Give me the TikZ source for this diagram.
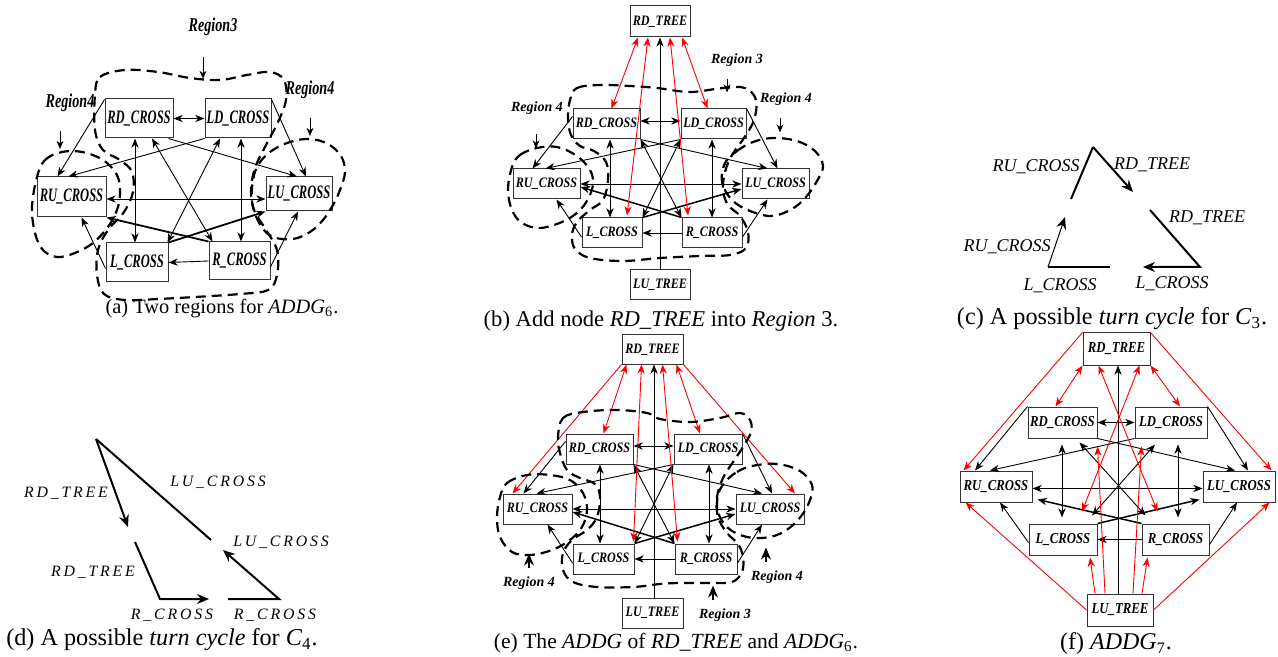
\documentclass[tikz,border=0pt]{standalone}
\usepackage{fontspec}
\setmainfont{Liberation Serif}
\newfontfamily\spit[LetterSpace=18]{Liberation Serif}
\usepackage{graphicx}
\usetikzlibrary{arrows.meta,calc}
\newcommand\cna[1]{\scalebox{0.66}[1]{#1}}
\newcommand\cnr[1]{\scalebox{0.72}[1]{#1}}
\newcommand\cnb[1]{\scalebox{0.84}[1]{#1}}
\tikzset{
  bxs/.style 2 args={draw=black!80, line width=0.5pt, inner sep=0pt,
    minimum width=#1*0.5pt, minimum height=#2*0.5pt},
  fa/.style={font=\fontsize{9.5}{10}\selectfont\bfseries\itshape},
  fb/.style={font=\fontsize{7.2}{8}\selectfont\bfseries\itshape},
  ff/.style={font=\fontsize{7.6}{8}\selectfont\bfseries\itshape},
  mytip/.tip={Stealth[length=4.6pt,width=3.6pt,inset=1.4pt]},
  e/.style={line width=0.45pt, -mytip},
  ee/.style={line width=0.45pt, mytip-mytip},
  et/.style={line width=0.9pt, -mytip},
  re/.style={line width=0.45pt, draw=red, -mytip},
  ree/.style={line width=0.45pt, draw=red, mytip-mytip},
  region/.style={line width=1.1pt, dash pattern=on 5pt off 3pt},
  rla/.style={font=\fontsize{9.8}{10}\selectfont\bfseries\itshape},
  rlb/.style={font=\fontsize{7}{8}\selectfont\bfseries\itshape},
  la/.style={line width=0.45pt, -{Stealth[length=4pt,width=3.4pt,inset=1.2pt]}},
  lu/.style={line width=0.6pt, -{Stealth[length=6pt,width=5pt,inset=2pt]}},
  clab/.style={font=\fontsize{9}{10}\selectfont\itshape},
  dlab/.style={font=\fontsize{7.9}{9}\selectfont\spit\itshape},
  tl/.style={line width=1pt},
  ctip/.tip={Stealth[length=6pt,width=5pt,inset=2pt]},
  capt/.style={font=\fontsize{#1}{12}\selectfont}
}
\begin{document}
\begin{tikzpicture}[x=0.5pt,y=-0.5pt]
\useasboundingbox (0,0) rectangle (1278,657);

%%%%%%%%%%%%%%%% (a)
\node[bxs={68}{39},fa] (aRD) at (139,118.5) {\cna{RD\_CROSS}};
\node[bxs={66}{39},fa] (aLD) at (238,118.5) {\cna{LD\_CROSS}};
\node[bxs={69}{40},fa] (aRU) at (71.5,197) {\cna{RU\_CROSS}};
\node[bxs={66}{34},fa] (aLU) at (299,194) {\cna{LU\_CROSS}};
\node[bxs={62}{39},fa] (aL) at (137,262.5) {\cna{L\_CROSS}};
\node[bxs={61}{38},fa] (aR) at (239.5,261) {\cna{R\_CROSS}};
\coordinate (avl) at (135,0);
\coordinate (avr) at (241,0);
\draw[ee] (aRD.east) -- (aLD.west);
\draw[e] ($(aRD.north west)+(0,1)$) -- ($(aRU.north)+(-14,0)$);
\draw[e] ($(aLD.north east)+(0,1)$) -- ($(aLU.north)+(7,0)$);
\draw[e] ($(aRD.south east)+(-5,0)$) -- ($(aLU.north)+(-2,0)$);
\draw[e] (aLD.south west) -- ($(aRU.north)+(-3,0)$);
\draw[ee] (aRD.south -| avl) -- (aL.north -| avl);
\draw[ee] (aLD.south -| avr) -- (aR.north -| avr);
\draw[ee] ($(aRD.south)+(13,0)$) -- ($(aR.north west)+(4,0)$);
\draw[ee] ($(aLD.south)+(-18,0)$) -- ($(aL.north east)+(-1,0)$);
\draw[ee] ($(aRU.east)+(0,2)$) -- ($(aLU.west)+(0,5)$);
\draw[et] (aR.north west) -- (aRU.south east);
\draw[et] (aL.north east) -- (aLU.south west);
\draw[e] (aR.west) -- (aL.east);
\draw[e] ($(aL.west)+(0,6)$) -- ($(aRU.south)+(10,0)$);
\draw[e] ($(aR.east)+(0,6)$) -- ($(aLU.south)+(-1,0)$);
\draw[region] plot[smooth cycle, tension=0.6] coordinates {(95,95) (100,77) (125,70) (158,72) (190,78) (220,80) (247,75) (270,72) (284,80) (286,100) (278,122) (266,145) (255,168) (251,190) (254,210) (266,230) (277,250) (277,275) (268,290) (240,294) (195,297) (158,299) (125,300) (104,294) (97,275) (98,250) (108,230) (124,212) (133,192) (132,172) (120,160) (103,150) (95,130)};
\draw[region] plot[smooth cycle, tension=0.6] coordinates {(37,177) (45,160) (62,152) (82,152) (103,160) (117,175) (120,193) (117,210) (108,227) (93,243) (75,253) (57,257) (43,250) (35,233) (32,207)};
\draw[region] plot[smooth cycle, tension=0.6] coordinates {(257,167) (270,152) (290,142) (310,139) (328,144) (341,156) (345,172) (340,190) (333,205) (323,220) (310,232) (293,239) (273,237) (261,226) (253,207) (252,187)};
\node[rla] (aR3) at (213,27) {\cnr{Region3}};
\node[rla] (aR4l) at (70,103) {\cnr{Region4}};
\node[rla] (aR4r) at (310,90) {\cnr{Region4}};
\draw[la] ($(aR3.south)+(-10,14)$) -- ++(0,22);
\draw[la] ($(aR4l.south)+(-10,12)$) -- ++(0,18);
\draw[la] ($(aR4r.south)+(0,12)$) -- ++(0,18);
\node[capt=10.2] (capa) at (222,309) {(a) Two regions for \textit{ADDG}\textsubscript{6}.};

%%%%%%%%%%%%%%%% macro for six-node graph (b),(e)
\newcommand\addgsix[1]{%
\draw[ee] ($(#1RD.east)+(0,-3)$) -- ($(#1LD.west)+(0,-3)$);
\draw[e] ($(#1RD.north west)+(0,8)$) -- ($(#1RU.north)+(-14,0)$);
\draw[e] (#1LD.north east) -- ($(#1LU.north)+(2,0)$);
\draw[e] (#1RD.south east) -- ($(#1LU.north)+(-8,0)$);
\draw[e] (#1LD.south west) -- ($(#1RU.north)+(-1,0)$);
\draw[ee] (#1RD.south -| #1vl) -- (#1L.north -| #1vl);
\draw[ee] (#1LD.south -| #1vr) -- (#1R.north -| #1vr);
\draw[ee] (#1RD.south east) -- (#1R.north west);
\draw[ee] (#1LD.south west) -- (#1L.north east);
\draw[ee] (#1RU.east) -- (#1LU.west);
\draw[et,line width=0.75pt] (#1R.north west) -- ($(#1RU.east)+(0,3)$);
\draw[et,line width=0.75pt] (#1L.north east) -- ($(#1LU.west)+(0,5)$);
\draw[e] (#1R.west) -- (#1L.east);
\draw[e] ($(#1L.west)+(0,4)$) -- ($(#1RU.south)+(10,0)$);
\draw[e] ($(#1R.east)+(0,4)$) -- ($(#1LU.south)+(-8,0)$);
}

%%%%%%%%%%%%%%%% (b)
\node[bxs={60}{31},fb] (bRDT) at (660,21.5) {\cnb{RD\_TREE}};
\node[bxs={67}{30},fb] (bRD) at (606.5,124) {\cnb{RD\_CROSS}};
\node[bxs={65}{30},fb] (bLD) at (713.5,124) {\cnb{LD\_CROSS}};
\node[bxs={67}{30},fb] (bRU) at (546.5,184) {\cnb{RU\_CROSS}};
\node[bxs={67}{30},fb] (bLU) at (775.5,184) {\cnb{LU\_CROSS}};
\node[bxs={60}{30},fb] (bL) at (612,233) {\cnb{L\_CROSS}};
\node[bxs={60}{30},fb] (bR) at (712,233) {\cnb{R\_CROSS}};
\node[bxs={60}{30},fb] (bLUT) at (660,285) {\cnb{LU\_TREE}};
\coordinate (bvl) at (610,0);
\coordinate (bvr) at (712,0);
\draw[e] (bLUT.north) -- (bRDT.south);
\addgsix{b}
\draw[ree] ($(bRDT.south)+(-22,0)$) -- ($(bRD.north)+(5,0)$);
\draw[ree] ($(bRDT.south)+(-12,0)$) -- ($(bL.north)+(15,-2)$);
\draw[ree] ($(bRDT.south)+(10,0)$) -- ($(bR.north)+(-24,-2)$);
\draw[ree] ($(bRDT.south)+(22,0)$) -- ($(bLD.north)+(-6,0)$);
\draw[region] plot[smooth cycle, tension=0.6] coordinates {(570,100) (577,88) (600,85) (630,86) (657,88) (690,92) (723,88) (745,88) (756,100) (754,120) (744,138) (732,155) (725,172) (723,190) (728,205) (740,216) (748,232) (746,248) (730,255) (700,256) (660,258) (623,261) (590,258) (575,249) (572,235) (577,222) (590,210) (603,200) (608,180) (606,162) (594,151) (580,146) (571,135) (568,118)};
\draw[region] plot[smooth cycle, tension=0.6] coordinates {(512,167) (520,155) (537,148) (557,147) (577,156) (590,170) (593,184) (588,199) (578,212) (562,222) (540,228) (522,223) (512,210) (508,190)};
\draw[region] plot[smooth cycle, tension=0.6] coordinates {(725,163) (737,151) (753,142) (773,138) (797,141) (815,151) (823,166) (817,181) (806,197) (792,209) (772,216) (750,211) (732,200) (722,182)};
\node[rlb] (bR3) at (737,60) {Region 3};
\node[rlb] (bR4l) at (537,108) {Region 4};
\node[rlb] (bR4r) at (786,99) {Region 4};
\draw[la] ($(bR3.south)+(-10,6)$) -- ++(0,13);
\draw[la] ($(bR4l.south)+(-1,13)$) -- ++(0,14);
\draw[la] ($(bR4r.south)+(-6,6)$) -- ++(0,14);
\node[capt=11.3] (capb) at (661,321) {(b) Add node \textit{RD\_TREE} into \textit{Region} 3.};

%%%%%%%%%%%%%%%% (c)
\coordinate (cA) at (1093,147);
\coordinate (cB) at (1071,199);
\coordinate (cC) at (1133,192);
\coordinate (cD) at (1150,210);
\coordinate (cE) at (1200,267);
\coordinate (cF) at (1143,267);
\coordinate (cG) at (1048,267);
\coordinate (cH) at (1110,267);
\coordinate (cI) at (1065,217);
\draw[tl] (cB) -- (cA);
\draw[tl,-ctip] (cA) -- (cC);
\draw[tl,-ctip] (cD) -- (cE) -- (cF);
\draw[tl] (cH) -- (cG);
\draw[line width=0.5pt,-ctip] (cG) -- (cI);
\node[clab] (c1) at (1036,167) {RU\_CROSS};
\node[clab] (c2) at (1152,165) {RD\_TREE};
\node[clab] (c3) at (1207,218) {RD\_TREE};
\node[clab] (c4) at (1172,284) {L\_CROSS};
\node[clab] (c5) at (1007,247) {RU\_CROSS};
\node[clab] (c6) at (1060,286) {L\_CROSS};
\node[capt=12.1] (capc) at (1112,319) {(c) A possible \textit{turn cycle} for \textit{C}\textsubscript{3}.};

%%%%%%%%%%%%%%%% (d)
\coordinate (dA) at (96,439);
\coordinate (dB) at (128,527);
\coordinate (dC) at (211,540);
\coordinate (dD) at (135,542);
\coordinate (dE) at (160,599);
\coordinate (dF) at (209,599);
\coordinate (dG) at (228,599);
\coordinate (dH) at (279,599);
\coordinate (dI) at (223,550);
\draw[tl,-ctip] (dA) -- (dB);
\draw[tl] (dA) -- (dC);
\draw[tl,-ctip] (dD) -- (dE) -- (dF);
\draw[tl,-ctip] (dG) -- (dH) -- (dI);
\node[dlab] (d1) at (218,482) {LU\_CROSS};
\node[dlab] (d2) at (66,493) {RD\_TREE};
\node[dlab] (d3) at (281,542) {LU\_CROSS};
\node[dlab] (d4) at (93,572) {RD\_TREE};
\node[dlab] (d5) at (172,615) {R\_CROSS};
\node[dlab] (d6) at (275,615) {R\_CROSS};
\node[capt=12.1] (capd) at (162,640) {(d) A possible \textit{turn cycle} for \textit{C}\textsubscript{4}.};

%%%%%%%%%%%%%%%% (e)
\node[bxs={61}{29},fb] (eRDT) at (652.5,349.5) {\cnb{RD\_TREE}};
\node[bxs={67}{30},fb] (eRD) at (599.5,449) {\cnb{RD\_CROSS}};
\node[bxs={68}{30},fb] (eLD) at (708,449) {\cnb{LD\_CROSS}};
\node[bxs={69}{30},fb] (eRU) at (537.5,509) {\cnb{RU\_CROSS}};
\node[bxs={68}{30},fb] (eLU) at (770,509) {\cnb{LU\_CROSS}};
\node[bxs={61}{30},fb] (eL) at (603.5,559) {\cnb{L\_CROSS}};
\node[bxs={62}{30},fb] (eR) at (706,559) {\cnb{R\_CROSS}};
\node[bxs={61}{30},fb] (eLUT) at (652.5,613) {\cnb{LU\_TREE}};
\coordinate (evl) at (600,0);
\coordinate (evr) at (709,0);
\coordinate (evc) at (654,0);
\draw[e] (eLUT.north -| evc) -- (eRDT.south -| evc);
\addgsix{e}
\draw[ree] ($(eRDT.south)+(-26,0)$) -- ($(eRD.north)+(4,0)$);
\draw[ree] ($(eRDT.south)+(-11,0)$) -- ($(eL.north east)+(-1,-2)$);
\draw[ree] ($(eRDT.south)+(10,0)$) -- ($(eR.north west)+(3,-2)$);
\draw[ree] ($(eRDT.south)+(24,0)$) -- ($(eLD.north)+(-8,0)$);
\draw[re] (eRDT.south west) -- ($(eRU.north)+(-25,0)$);
\draw[re] (eRDT.south east) -- ($(eLU.north)+(25,0)$);
\draw[region] plot[smooth cycle, tension=0.6] coordinates {(558,437) (563,418) (583,412) (617,410) (647,413) (660,419) (690,422) (720,418) (740,413) (750,420) (751,432) (743,447) (733,462) (723,478) (717,497) (718,517) (727,533) (738,544) (743,557) (742,572) (732,582) (710,583) (680,583) (660,584) (633,587) (597,587) (573,582) (563,570) (563,553) (572,540) (587,530) (597,517) (600,497) (595,484) (580,478) (567,470) (560,453)};
\draw[region] plot[smooth cycle, tension=0.6] coordinates {(500,497) (507,483) (527,475) (550,475) (570,480) (583,493) (587,510) (582,527) (570,540) (552,550) (530,555) (512,552) (500,537) (497,517)};
\draw[region] plot[smooth cycle, tension=0.6] coordinates {(725,482) (737,472) (752,466) (777,464) (800,471) (812,485) (810,500) (802,515) (788,529) (770,537) (747,537) (728,528) (718,512) (718,495)};
\node[rlb] (eR4l) at (529,583) {Region 4};
\node[rlb] (eR4r) at (777,577) {Region 4};
\node[rlb] (eR3) at (725,615) {Region 3};
\draw[lu] ($(eR4l.north)+(0,-2)$) -- ++(0,-14);
\draw[lu] ($(eR4r.north)+(-11,-2)$) -- ++(0,-14);
\draw[lu] ($(eR3.north)+(-12,-2)$) -- ++(0,-14);
\node[capt=10.8] (cape) at (676,643) {(e) The \textit{ADDG} of \textit{RD\_TREE} and \textit{ADDG}\textsubscript{6}.};

%%%%%%%%%%%%%%%% (f)
\node[bxs={67}{32},ff] (fRDT) at (1116.5,349) {\cnb{RD\_TREE}};
\node[bxs={69}{31},ff] (fRD) at (1062.5,422.5) {\cnb{RD\_CROSS}};
\node[bxs={72}{31},ff] (fLD) at (1171,422.5) {\cnb{LD\_CROSS}};
\node[bxs={72}{31},ff] (fRU) at (996,486.5) {\cnb{RU\_CROSS}};
\node[bxs={72}{31},ff] (fLU) at (1239,486.5) {\cnb{LU\_CROSS}};
\node[bxs={68}{31},ff] (fL) at (1063,539.5) {\cnb{L\_CROSS}};
\node[bxs={67}{31},ff] (fR) at (1175.5,539.5) {\cnb{R\_CROSS}};
\node[bxs={66}{32},ff] (fLUT) at (1120,610) {\cnb{LU\_TREE}};
\coordinate (fvl) at (1062,0);
\coordinate (fvr) at (1178,0);
\coordinate (fvc) at (1118,0);
\draw[e] (fLUT.north -| fvc) -- (fRDT.south -| fvc);
\draw[ee] (fRD.east) -- (fLD.west);
\draw[e] (fRD.north west) -- ($(fRU.north)+(-21,0)$);
\draw[e] (fLD.north east) -- ($(fLU.north)+(9,0)$);
\draw[e] (fRD.south east) -- ($(fLU.north)+(-4,0)$);
\draw[e] (fLD.south west) -- ($(fRU.north)+(-6,0)$);
\draw[ee] ($(fRD.south -| fvl)+(0,6)$) -- ($(fL.north -| fvl)+(0,-6)$);
\draw[ee] ($(fLD.south -| fvr)+(0,6)$) -- ($(fR.north -| fvr)+(0,-6)$);
\draw[ee] ($(fRD.south)+(17,4)$) -- ($(fR.north)+(-30,-8)$);
\draw[ee] ($(fLD.south)+(-16,6)$) -- ($(fL.north)+(29,-8)$);
\draw[ee] ($(fRU.east)+(0,2)$) -- ($(fLU.west)+(0,2)$);
\draw[et,line width=0.75pt] (fR.north west) -- ($(fRU.south east)+(5,-3)$);
\draw[et,line width=0.75pt] (fL.north east) -- ($(fLU.south west)+(-3,-3)$);
\draw[e] (fR.west) -- (fL.east);
\draw[e] ($(fL.west)+(0,3)$) -- ($(fRU.south)+(4,0)$);
\draw[e] ($(fR.east)+(0,5)$) -- ($(fLU.south)+(-2,0)$);
\draw[ree] (fRDT.south west) -- ($(fRD.north)+(-7,0)$);
\draw[ree] (fRDT.south east) -- ($(fLD.north)+(9,0)$);
\draw[re] (fRDT.north west) -- ($(fRU.north west)+(4,0)$);
\draw[re] (fRDT.north east) -- ($(fLU.north east)+(-4,0)$);
\draw[re] (fLUT.west) -- ($(fRU.south west)+(6,0)$);
\draw[re] (fLUT.east) -- ($(fLU.south east)+(-6,0)$);
\draw[re] ($(fLUT.north)+(-25,0)$) -- ($(fL.south)+(27,2)$);
\draw[re] ($(fLUT.north)+(22,0)$) -- ($(fR.south)+(-28,2)$);
\draw[ree] ($(fRDT.south)+(-18,0)$) -- ($(fR.north)+(-18,-12)$);
\draw[ree] ($(fRDT.south)+(23,0)$) -- ($(fL.north)+(19,-12)$);
\draw[re] ($(fLUT.north)+(-15,0)$) -- ($(fRD.south east)+(0,8)$);
\draw[re] ($(fLUT.north)+(13,0)$) -- ($(fLD.south west)+(7,8)$);
\node[capt=12] (capf) at (1116,644) {(f) \textit{ADDG}\textsubscript{7}.};
\end{tikzpicture}
\end{document}
